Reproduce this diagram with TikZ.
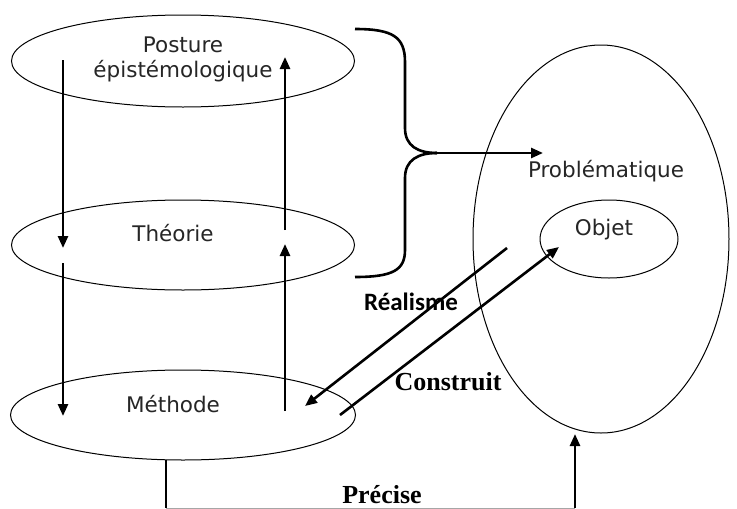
\documentclass[tikz,border=0pt]{standalone}
\usepackage{fontspec}
\setmainfont{DejaVu Sans}
\newfontfamily\calfont{Carlito}
\newfontfamily\timesfont{Liberation Serif}
\usetikzlibrary{arrows.meta,shapes.geometric}
\begin{document}
\begin{tikzpicture}[x=1pt,y=-1pt,
  ell/.style={draw, ellipse, line width=1pt, inner sep=0pt},
  arr/.style={line width=2.6pt, -{Triangle[length=12pt,width=10pt]}},
  thick line/.style={line width=2.6pt},
  lbl/.style={font=\fontsize{21.5}{25}\selectfont, align=center, text=black!85, inner sep=0pt},
  serifb/.style={font=\timesfont\bfseries\fontsize{26}{28}\selectfont, inner sep=0pt},
  calb/.style={font=\calfont\bfseries\fontsize{25}{28}\selectfont, inner sep=0pt},
]
\useasboundingbox[fill=white] (0,0) rectangle (737,509);
% ellipses
\node[ell, minimum width=343, minimum height=92] (post) at (183,61) {};
\node[ell, minimum width=343, minimum height=90] (theo) at (183,245) {};
\node[ell, minimum width=345, minimum height=90] (meth) at (183,415) {};
\node[ell, minimum width=256, minimum height=388] (prob) at (601,239) {};
\node[ell, minimum width=138, minimum height=78] (obj) at (609,239) {};
% labels
\node[lbl] (postT) at (183,59) {Posture\\épistémologique};
\node[lbl] (theoT) at (173,233) {Théorie};
\node[lbl] (methT) at (173,404) {Méthode};
\node[lbl] (probT) at (606,171) {Problématique};
\node[lbl] (objT) at (604,230) {Objet};
\node[calb] (real) at (411,302) {Réalisme};
\node[serifb] (cons) at (448,382) {Construit};
\node[serifb] (prec) at (382,495) {Précise};
% vertical arrows
\coordinate (a1) at (63,60);  \coordinate (a2) at (63,248);
\coordinate (a3) at (63,263); \coordinate (a4) at (63,416);
\coordinate (b1) at (285,230); \coordinate (b2) at (285,57);
\coordinate (b3) at (285,411); \coordinate (b4) at (285,244);
\draw[arr] (a1) -- (a2);
\draw[arr] (a3) -- (a4);
\draw[arr] (b1) -- (b2);
\draw[arr] (b3) -- (b4);
% brace
\coordinate (tip) at (437,153);
\coordinate (probin) at (543,153);
\draw[thick line] (355,29) .. controls (393,29) and (405,37) .. (405,62) -- (405,128)
  .. controls (405,146) and (418,153) .. (tip);
\draw[thick line] (tip) .. controls (418,153) and (405,160) .. (405,178) -- (405,250)
  .. controls (405,270) and (393,277) .. (355,277);
\draw[arr] (tip) -- (probin);
% diagonal arrows
\coordinate (r1) at (507,248); \coordinate (r2) at (305,406);
\coordinate (c1) at (340,415); \coordinate (c2) at (559,247);
\draw[arr] (r1) -- (r2);
\draw[arr] (c1) -- (c2);
% bottom connector
\coordinate (m1) at (166,460);
\coordinate (m2) at (166,508);
\coordinate (p2) at (575,508);
\coordinate (p1) at (575,434);
\draw[thick line] (m1) -- (m2);
\draw[line width=0.6pt, black!35] (m2) -- (p2);
\draw[arr] (p2) -- (p1);
\end{tikzpicture}
\end{document}
